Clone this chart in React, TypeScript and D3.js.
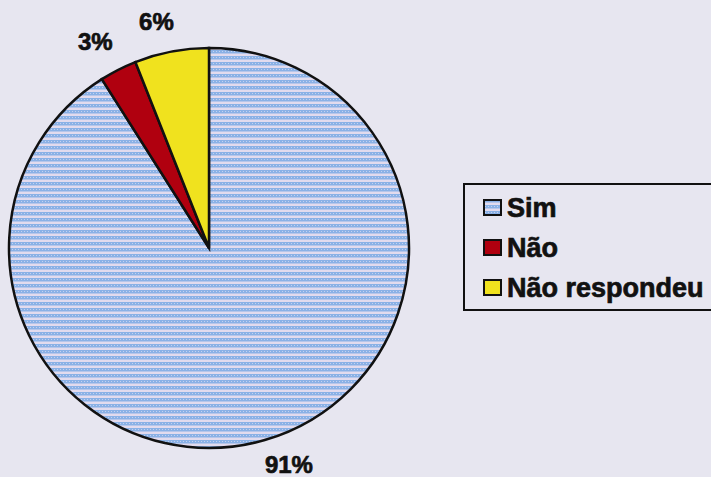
import React from "react";
import * as d3 from "d3";

const categories = ["Sim", "Não", "Não respondeu"];
const values = [91, 3, 6];
const labels = ["91%", "3%", "6%"];
const colors = ["url(#stripes)", "#b0000f", "#f0e21e"];

const W = 711, H = 477;
const cx = 209, cy = 248, R = 200;
const FONT = "Liberation Sans, Arial, sans-serif";

export default function App() {
  const pie = d3.pie<number>().sort(null).value((d) => d)(values);
  const arc = d3.arc<d3.PieArcDatum<number>>().innerRadius(0).outerRadius(R);
  const labelArc = d3.arc<d3.PieArcDatum<number>>().innerRadius(R + 22).outerRadius(R + 22);
  const labelOffsets = [[18, 5], [-13, -7], [-11, -6]];
  return (
    <svg width={W} height={H} style={{ position: "absolute", left: 0, top: 0 }}>
      <defs>
        <pattern id="stripes" width="6" height="6" patternUnits="userSpaceOnUse">
          <rect width="6" height="6" fill="#e2dbee" />
          <rect y="0" width="6" height="3.5" fill="#8ab1e6" />
          <rect x="1" y="1" width="1" height="1" fill="#c4d2f0" />
          <rect x="4" y="1" width="1" height="1" fill="#c4d2f0" />
        </pattern>
      </defs>
      <rect width={W} height={H} fill="#e7e6f0" />
      <g transform={`translate(${cx},${cy})`}>
        {pie.map((p, i) => (
          <path key={i} d={arc(p) || ""} fill={colors[i]} stroke="#111" strokeWidth={2.5} />
        ))}
        {pie.map((p, i) => {
          const [x, y] = labelArc.centroid(p);
          return (
            <text key={i} x={x + labelOffsets[i][0]} y={y + labelOffsets[i][1]} textAnchor="middle" dominantBaseline="middle"
              fontFamily={FONT} fontWeight="bold" fontSize={24} fill="#111" stroke="#111" strokeWidth={0.7}>
              {labels[i]}
            </text>
          );
        })}
      </g>
      <rect x={464} y={184} width={260} height={126} fill="#e7e6f0" stroke="#111" strokeWidth={2} />
      {categories.map((c, i) => (
        <g key={c} transform={`translate(484,${217 + i * 40})`}>
          <rect x={0} y={-17} width={17} height={15} fill={colors[i]} stroke="#111" strokeWidth={2} />
          <text x={23} y={0} fontFamily={FONT} fontWeight="bold" fontSize={27} fill="#111" stroke="#111" strokeWidth={0.7}>{c}</text>
        </g>
      ))}
    </svg>
  );
}
